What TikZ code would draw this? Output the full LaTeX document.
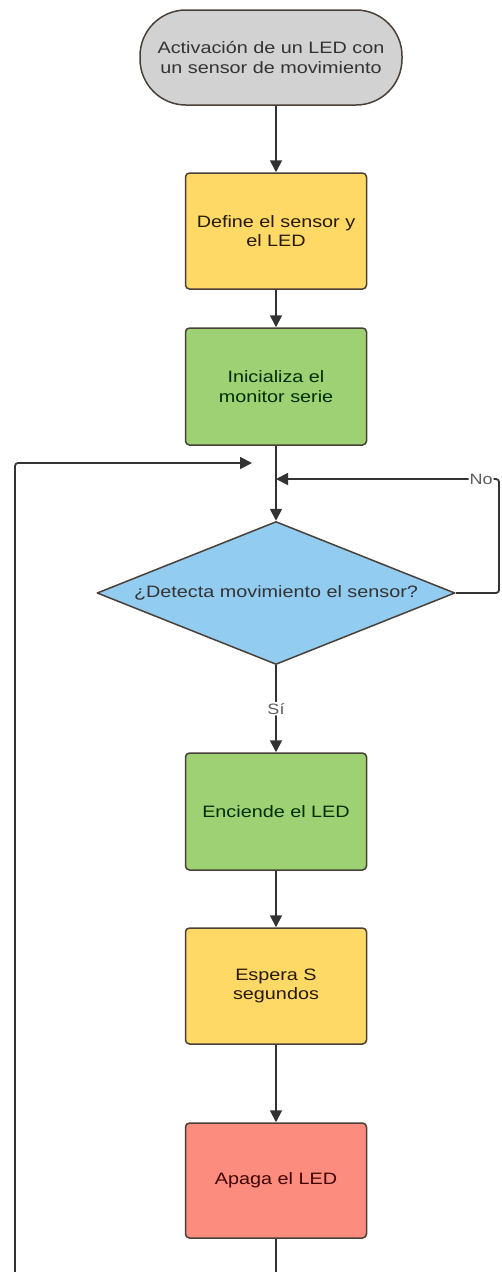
\documentclass[tikz,border=0pt]{standalone}
\usepackage{fontspec}
\setmainfont{Liberation Sans}[FakeStretch=1.2]
\usetikzlibrary{arrows.meta,shapes.geometric}
\newcommand{\Px}{1pt}
\newcommand{\Edge}{1.5pt}
\newcommand{\Wire}{1.8pt}
\newcommand{\BoxW}{181pt}
\newcommand{\Col}{276}
\definecolor{pillgrey}{HTML}{D2D2D2}
\definecolor{stepyellow}{HTML}{FFD966}
\definecolor{stepgreen}{HTML}{9DD174}
\definecolor{askblue}{HTML}{92CCF0}
\definecolor{stepred}{HTML}{FB8C7E}
\definecolor{rim}{HTML}{4A4038}
\definecolor{wirecol}{HTML}{333333}
\definecolor{ink}{HTML}{333333}

\begin{document}
\begin{tikzpicture}[x=\Px,y=-\Px, line join=round,
  box/.style={draw=rim, line width=\Edge, rounded corners=4pt, minimum width=\BoxW,
    align=center, text=ink, font=\fontsize{16.5}{19.5}\selectfont},
  link/.style={draw=wirecol, line width=\Wire, rounded corners=3pt},
  arrow/.style={link, -{Triangle[length=12pt,width=12pt]}},
  tag/.style={fill=white, inner sep=1pt, text=ink!80, font=\fontsize{15}{18}\selectfont}]

  \clip (0,0) rectangle (501,1272);

  % ---- start -------------------------------------------------------------
  \node[box, fill=pillgrey, rounded corners=46pt, minimum width=262pt, minimum height=95pt]
    (start) at (271,57.5) {Activación de un LED con\\un sensor de movimiento};

  % ---- setup steps --------------------------------------------------------
  \node[box, fill=stepyellow, text=black!80!brown, minimum height=116pt]
    (define) at (\Col,231) {Define el sensor y\\el LED};
  \node[box, fill=stepgreen, text=black!70!green!60!black, minimum height=117pt]
    (init) at (\Col,386.5) {Inicializa el\\monitor serie};

  % ---- the question -------------------------------------------------------
  \node[box, diamond, fill=askblue, rounded corners=0pt, aspect=2.5, inner sep=0pt,
    minimum width=358pt, minimum height=143pt] (ask) at (\Col,593)
    {¿Detecta movimiento el sensor?};

  % ---- loop body ----------------------------------------------------------
  \node[box, fill=stepgreen, text=black!70!green!60!black, minimum height=117pt]
    (on) at (\Col,811.5) {Enciende el LED};
  \node[box, fill=stepyellow, text=black!80!brown, minimum height=116pt]
    (wait) at (\Col,986) {Espera S\\segundos};
  \node[box, fill=stepred, text=black!75!red, minimum height=115pt]
    (off) at (\Col,1180.5) {Apaga el LED};

  \coordinate (loopin) at (252,463);
  \coordinate (noin) at (\Col,479);

  % ---- connectors ---------------------------------------------------------
  \draw[arrow] (start.south -| define.north) -- (define.north);
  \draw[arrow] (define) -- (init);
  \draw[arrow] (init) -- (ask.north);
  \draw[arrow] (ask.south) -- node[tag] {Sí} (on.north);
  \draw[arrow] (on) -- (wait);
  \draw[arrow] (wait) -- (off);
  % No: back round to just above the question.
  \draw[arrow] (ask.east) -- (499,593) -- (499,479) -- node[tag, pos=0.08] {No} (noin);
  % Off the page and back up the left side.
  \draw[arrow] (off.south) -- (\Col,1300) -- (15,1300) -- (15,463) -- (loopin);

\end{tikzpicture}
\end{document}
